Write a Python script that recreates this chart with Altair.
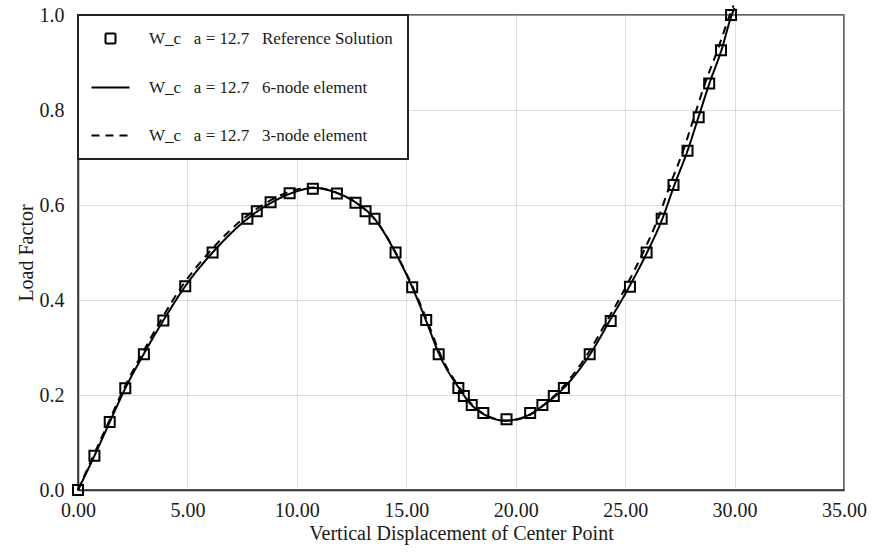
import altair as alt
import pandas as pd

# Reference solution (squares)
ref_x = [0.00, 0.75, 1.45, 2.16, 3.01, 3.90, 4.90, 6.15, 7.74, 8.17,
         8.80, 9.67, 10.73, 11.83, 12.68, 13.14, 13.55, 14.51, 15.27, 15.91,
         16.48, 17.38, 17.63, 17.99, 18.52, 19.58, 20.66, 21.22, 21.74, 22.20,
         23.38, 24.34, 25.22, 25.98, 26.67, 27.21, 27.85, 28.36, 28.84, 29.38,
         29.84]
ref_y = [0.000, 0.072, 0.143, 0.214, 0.286, 0.357, 0.429, 0.500, 0.571, 0.587,
         0.606, 0.625, 0.634, 0.624, 0.605, 0.587, 0.571, 0.500, 0.427, 0.358,
         0.286, 0.215, 0.198, 0.179, 0.162, 0.149, 0.162, 0.179, 0.198, 0.215,
         0.286, 0.356, 0.428, 0.500, 0.571, 0.642, 0.714, 0.785, 0.856, 0.926,
         1.000]

# 6-node element (solid)
six_x = [0.00, 0.75, 1.45, 2.16, 3.00, 3.90, 4.90, 6.15, 7.74, 8.80,
         9.70, 10.80, 11.80, 12.70, 13.55, 14.50, 15.25, 15.90, 16.50, 17.40,
         18.00, 18.60, 19.50, 20.60, 21.20, 22.20, 23.40, 24.30, 25.20, 26.00,
         26.70, 27.25, 27.85, 28.35, 28.85, 29.40, 29.87, 30.00]
six_y = [0.000, 0.072, 0.143, 0.214, 0.286, 0.357, 0.429, 0.500, 0.571, 0.604,
         0.624, 0.636, 0.626, 0.605, 0.571, 0.500, 0.429, 0.357, 0.286, 0.215,
         0.178, 0.158, 0.146, 0.158, 0.176, 0.215, 0.286, 0.357, 0.429, 0.500,
         0.571, 0.642, 0.714, 0.785, 0.856, 0.926, 1.000, 1.015]

# 3-node element (dashed)
three_x = [0.00, 0.70, 1.40, 2.10, 2.92, 3.78, 4.75, 5.98, 7.55, 8.65,
           9.60, 10.70, 11.85, 12.80, 13.65, 14.58, 15.33, 15.98, 16.58, 17.48,
           18.08, 18.68, 19.60, 20.65, 21.20, 22.12, 23.28, 24.18, 25.05, 25.82,
           26.50, 27.05, 27.65, 28.15, 28.65, 29.22, 29.78, 29.95]
three_y = [0.000, 0.072, 0.143, 0.214, 0.286, 0.357, 0.429, 0.500, 0.571, 0.606,
           0.627, 0.637, 0.625, 0.602, 0.565, 0.494, 0.424, 0.353, 0.283, 0.212,
           0.176, 0.157, 0.146, 0.158, 0.176, 0.215, 0.286, 0.357, 0.429, 0.500,
           0.571, 0.642, 0.714, 0.785, 0.856, 0.926, 1.000, 1.020]

x_ticks = [0, 5, 10, 15, 20, 25, 30, 35]
y_ticks = [0.0, 0.2, 0.4, 0.6, 0.8, 1.0]

SP = "\u00a0\u00a0\u00a0"
S_REF = "W_c" + SP + "a = 12.7" + SP + "Reference Solution"
S_SIX = "W_c" + SP + "a = 12.7" + SP + "6-node element"
S_THREE = "W_c" + SP + "a = 12.7" + SP + "3-node element"
names = [S_REF, S_SIX, S_THREE]

df_ref = pd.DataFrame({"x": ref_x, "y": ref_y, "series": S_REF})
df_lines = pd.concat([
    pd.DataFrame({"x": six_x, "y": six_y, "series": S_SIX}),
    pd.DataFrame({"x": three_x, "y": three_y, "series": S_THREE}),
])

FONT = "Liberation Serif"
TXT = "#1a1a1a"

xs = alt.Scale(domain=[0, 35], nice=False, zero=False)
ys = alt.Scale(domain=[0, 1], nice=False, zero=False)

x_enc = alt.X("x:Q", scale=xs, axis=alt.Axis(
    values=x_ticks, format=".2f", title="Vertical Displacement of Center Point",
    grid=True, ticks=False, labelFlush=False, labelPadding=10, titlePadding=3))
y_enc = alt.Y("y:Q", scale=ys, axis=alt.Axis(
    values=y_ticks, format=".1f", title="Load Factor",
    grid=True, ticks=False, labelFlush=False, labelPadding=14, titlePadding=3))

legend = alt.Legend(
    title=None, orient="none", legendX=0, legendY=0,
    strokeColor="#222222", fillColor="white", padding=15,
    labelFont=FONT, labelFontSize=17, labelColor=TXT, labelLimit=500,
    labelOffset=30, symbolOffset=9, symbolSize=100,
    symbolStrokeWidth=2, symbolStrokeColor="black", symbolFillColor="transparent",
    rowPadding=30,
)

SQUARE = "M-1,-1H1V1H-1Z"
LINE = "M-3.8,0H3.8"

lines = alt.Chart(df_lines).mark_line(
    color="black", strokeWidth=2, interpolate="monotone", clip=False
).encode(
    x=x_enc, y=y_enc,
    strokeDash=alt.StrokeDash("series:N", scale=alt.Scale(domain=names, range=[[1, 0], [1, 0], [8, 6]]), legend=legend),
)

points = alt.Chart(df_ref).mark_point(
    filled=False, size=100, strokeWidth=2, color="black", opacity=1
).encode(
    x=x_enc, y=y_enc,
    shape=alt.Shape("series:N", scale=alt.Scale(domain=names, range=[SQUARE, LINE, LINE]), legend=legend),
)

chart = alt.layer(lines, points).properties(
    width=766, height=475,
    autosize=alt.AutoSizeParams(type="none"),
    padding={"left": 78, "top": 15, "right": 28, "bottom": 62},
    background="white",
).configure_view(
    stroke="#333333", strokeWidth=1.5
).configure_axis(
    labelFont=FONT, labelFontSize=20, labelColor=TXT,
    titleFont=FONT, titleFontSize=20, titleColor=TXT, titleFontWeight="normal",
    gridColor="#bdbdbd", gridDash=[1, 1], gridWidth=1,
    domainColor="#333333", domainWidth=1.5,
).configure_legend(
    strokeWidth=2
)

chart.save("out.html", embed_options={"renderer": "svg", "actions": False})
